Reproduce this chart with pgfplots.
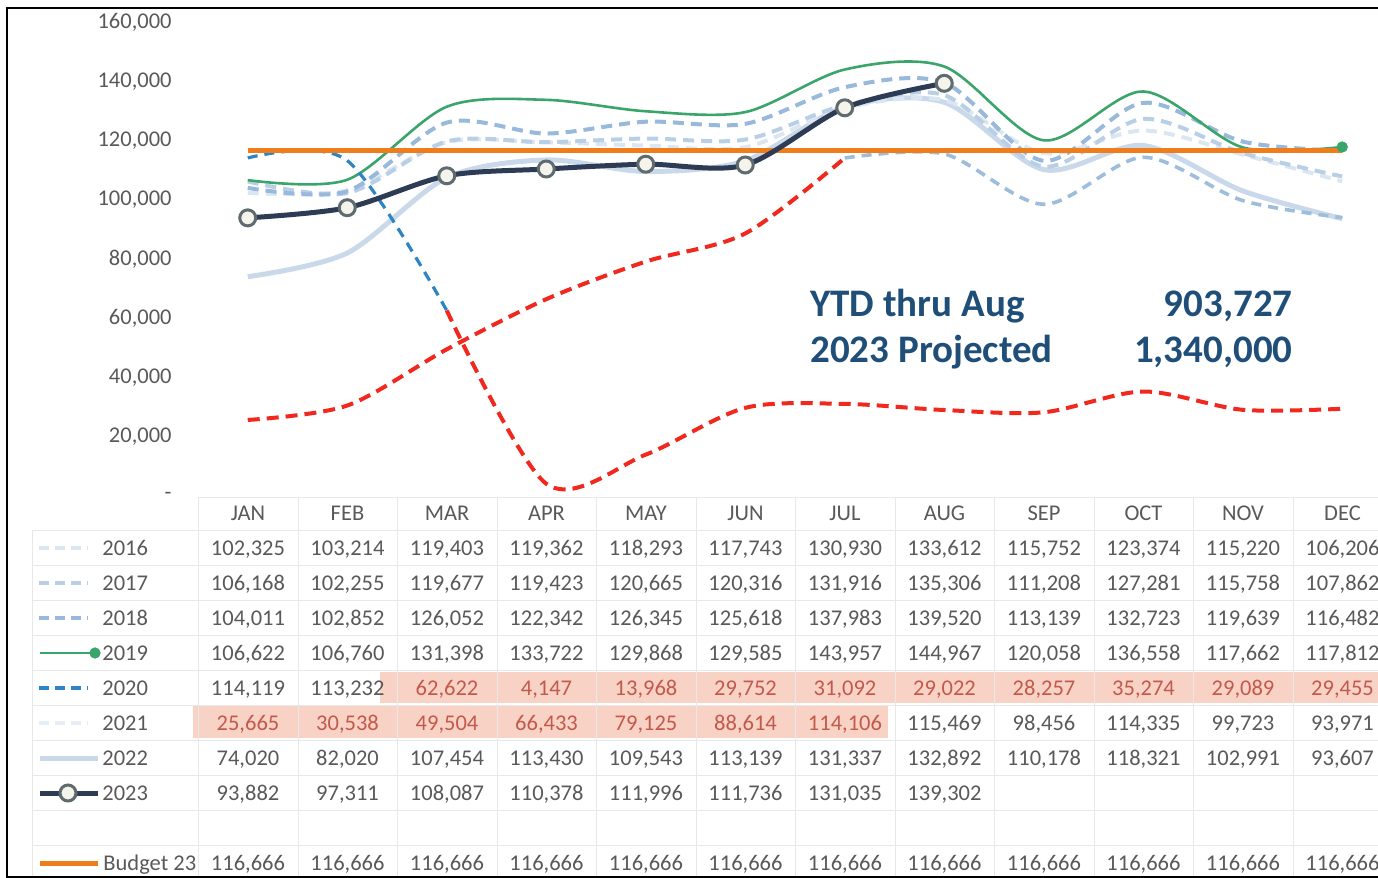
\documentclass[border=0pt]{standalone}
\usepackage{pgfplots}
\pgfplotsset{compat=1.18}
\usepackage{pgfplotstable}
\usepackage{fontspec}
\setmainfont{Carlito}
\definecolor{cA}{HTML}{DCE6F1}
\definecolor{cB}{HTML}{B8CFE6}
\definecolor{cC}{HTML}{98B9DB}
\definecolor{cG}{HTML}{3AA56B}
\definecolor{cD}{HTML}{2F84C2}
\definecolor{cE}{HTML}{9DBDDB}
\definecolor{cEl}{HTML}{E6EDF4}
\definecolor{cF}{HTML}{CAD9EA}
\definecolor{cN}{HTML}{2E3B54}
\definecolor{cMk}{HTML}{5F6B6E}
\definecolor{cMf}{HTML}{F4F4EC}
\definecolor{cO}{HTML}{F07D1C}
\definecolor{cR}{HTML}{F0281E}
\definecolor{cT}{HTML}{595959}
\definecolor{cHi}{HTML}{F9D2C6}
\definecolor{cHt}{HTML}{C25A4C}
\definecolor{cNote}{HTML}{1F4E79}
\definecolor{cGrid}{HTML}{E8E8E8}

\pgfplotstableread{
m y2016 y2017 y2018 y2019 y2020 y2021 y2022 y2023 bud
0 102325 106168 104011 106622 114119 25665 74020 93882 116666
1 103214 102255 102852 106760 113232 30538 82020 97311 116666
2 119403 119677 126052 131398 62622 49504 107454 108087 116666
3 119362 119423 122342 133722 4147 66433 113430 110378 116666
4 118293 120665 126345 129868 13968 79125 109543 111996 116666
5 117743 120316 125618 129585 29752 88614 113139 111736 116666
6 130930 131916 137983 143957 31092 114106 131337 131035 116666
7 133612 135306 139520 144967 29022 115469 132892 139302 116666
8 115752 111208 113139 120058 28257 98456 110178 nan 116666
9 123374 127281 132723 136558 35274 114335 118321 nan 116666
10 115220 115758 119639 117662 29089 99723 102991 nan 116666
11 106206 107862 116482 117812 29455 93971 93607 nan 116666
}\datatab

\newcommand\tabfont{\fontsize{11.25}{13.5}\selectfont}
% #1 row center (px), #2 first red index, #3 last red index, #4 list
\newcommand\rowvals[4]{%
  \foreach \v [count=\i from 0] in {#4} {%
    \ifnum\i<#2 \def\cc{cT}\else\ifnum\i>#3 \def\cc{cT}\else\def\cc{cHt}\fi\fi
    \node[anchor=base, inner sep=0pt, text=\cc, font=\tabfont] at (248+99.5*\i, #1+7) {\v};
  }}

\begin{document}
\begin{tikzpicture}
% ---------- table / legend axis in pixel coordinates ----------
\begin{axis}[at={(0pt,0pt)}, anchor=north west, scale only axis,
  width=689pt, height=439pt, xmin=0, xmax=1378, ymin=0, ymax=878,
  y dir=reverse, hide axis, clip=false]
\addplot[cA, line width=2pt, dash pattern=on 5pt off 3pt] coordinates {(39,548) (88,548)};
\addplot[cB, line width=2pt, dash pattern=on 5pt off 3pt] coordinates {(39,583) (88,583)};
\addplot[cC, line width=2pt, dash pattern=on 5pt off 3pt] coordinates {(39,618) (88,618)};
\addplot[cG, line width=1.4pt] coordinates {(40,653) (95,653)};
\addplot[cG, only marks, mark=*, mark size=2.6pt] coordinates {(95,653)};
\addplot[cD, line width=2pt, dash pattern=on 5pt off 3pt] coordinates {(39,688) (88,688)};
\addplot[cEl, line width=2pt, dash pattern=on 5pt off 3pt] coordinates {(39,723) (88,723)};
\addplot[cF, line width=2.5pt] coordinates {(40,758) (98,758)};
\addplot[cN, line width=2.5pt] coordinates {(40,793) (98,793)};
\addplot[only marks, mark=*, mark size=4pt, mark options={fill=cMf, draw=cMk, line width=1.5pt}] coordinates {(68,793)};
\addplot[cO, line width=2.5pt] coordinates {(40,863) (98,863)};
\end{axis}

% ---------- main chart axis ----------
\begin{axis}[at={(99pt,-248pt)}, anchor=south west, scale only axis,
  width=597pt, height=237pt, xmin=-0.5, xmax=11.5, ymin=0, ymax=160000,
  axis line style={draw=none}, xtick=\empty, scaled y ticks=false,
  ytick={0,20000,40000,60000,80000,100000,120000,140000,160000},
  yticklabels={-,{20,000},{40,000},{60,000},{80,000},{100,000},{120,000},{140,000},{160,000}},
  major tick length=0pt,
  yticklabel style={font=\tabfont, text=cT, anchor=east, inner sep=0pt, xshift=-13pt},
  clip=false]
\addplot[cF, line width=2.5pt, smooth] table[x=m,y=y2022]{\datatab};
\addplot[cA, line width=2pt, dash pattern=on 5.5pt off 3.5pt, smooth] table[x=m,y=y2016]{\datatab};
\addplot[cB, line width=2pt, dash pattern=on 5.5pt off 3.5pt, smooth] table[x=m,y=y2017]{\datatab};
\addplot[cC, line width=2pt, dash pattern=on 5.5pt off 3.5pt, smooth] table[x=m,y=y2018]{\datatab};
\addplot[cG, line width=1.3pt, smooth] table[x=m,y=y2019]{\datatab};
\addplot[cG, only marks, mark=*, mark size=2.6pt, restrict x to domain=10.5:11.5] table[x=m,y=y2019]{\datatab};
\addplot[cD, line width=1.6pt, dash pattern=on 5pt off 3.5pt, smooth, restrict x to domain=0:2] table[x=m,y=y2020]{\datatab};
\addplot[cE, line width=1.8pt, dash pattern=on 5pt off 3.5pt, smooth, restrict x to domain=6:11] table[x=m,y=y2021]{\datatab};
\addplot[cO, line width=2.5pt] table[x=m,y=bud]{\datatab};
\addplot[cN, line width=2.5pt, smooth, mark=*, mark size=4pt,
  mark options={fill=cMf, draw=cMk, line width=1.5pt}] table[x=m,y=y2023]{\datatab};
\addplot[cR, line width=2pt, dash pattern=on 6pt off 3.5pt, smooth, restrict x to domain=2:11] table[x=m,y=y2020]{\datatab};
\addplot[cR, line width=2pt, dash pattern=on 6pt off 3.5pt, smooth, restrict x to domain=0:6] table[x=m,y=y2021]{\datatab};
\end{axis}

% ---------- table drawing in pixel coordinates ----------
\begin{scope}[x=0.5pt, y=-0.5pt]
% highlights
\fill[cHi] (380,672) rectangle (1378,703);
\fill[cHi] (193,706) rectangle (888,738);
% grid
\draw[cGrid, line width=0.5pt] (198,497) -- (1378,497);
\foreach \k in {0,...,9} {\draw[cGrid, line width=0.5pt] (32,530+35*\k) -- (1378,530+35*\k);}
\foreach \k in {0,...,12} {\draw[cGrid, line width=0.5pt] (198.5+99.5*\k,497) -- (198.5+99.5*\k,878);}
\draw[cGrid, line width=0.5pt] (32,530) -- (32,878);
% header
\foreach \v [count=\i from 0] in {JAN,FEB,MAR,APR,MAY,JUN,JUL,AUG,SEP,OCT,NOV,DEC} {
  \node[anchor=base, inner sep=0pt, text=cT, font=\tabfont] at (248+99.5*\i, 520) {\v};}
% row labels
\foreach \v [count=\i from 0] in {2016,2017,2018,2019,2020,2021,2022,2023} {
  \node[anchor=base west, inner sep=0pt, text=cT, font=\tabfont] at (102, 555+35*\i) {\v};}
\node[anchor=base west, inner sep=0pt, text=cT, font=\tabfont] at (103, 870) {Budget 23};
% values
\rowvals{548}{99}{-1}{{102,325},{103,214},{119,403},{119,362},{118,293},{117,743},{130,930},{133,612},{115,752},{123,374},{115,220},{106,206}}
\rowvals{583}{99}{-1}{{106,168},{102,255},{119,677},{119,423},{120,665},{120,316},{131,916},{135,306},{111,208},{127,281},{115,758},{107,862}}
\rowvals{618}{99}{-1}{{104,011},{102,852},{126,052},{122,342},{126,345},{125,618},{137,983},{139,520},{113,139},{132,723},{119,639},{116,482}}
\rowvals{653}{99}{-1}{{106,622},{106,760},{131,398},{133,722},{129,868},{129,585},{143,957},{144,967},{120,058},{136,558},{117,662},{117,812}}
\rowvals{688}{2}{11}{{114,119},{113,232},{62,622},{4,147},{13,968},{29,752},{31,092},{29,022},{28,257},{35,274},{29,089},{29,455}}
\rowvals{723}{0}{6}{{25,665},{30,538},{49,504},{66,433},{79,125},{88,614},{114,106},{115,469},{98,456},{114,335},{99,723},{93,971}}
\rowvals{758}{99}{-1}{{74,020},{82,020},{107,454},{113,430},{109,543},{113,139},{131,337},{132,892},{110,178},{118,321},{102,991},{93,607}}
\rowvals{793}{99}{-1}{{93,882},{97,311},{108,087},{110,378},{111,996},{111,736},{131,035},{139,302}}
\rowvals{863}{99}{-1}{{116,666},{116,666},{116,666},{116,666},{116,666},{116,666},{116,666},{116,666},{116,666},{116,666},{116,666},{116,666}}
% annotation
\node[anchor=base west, inner sep=0pt, text=cNote, font=\fontsize{19.5}{23}\selectfont\bfseries] at (810,316) {YTD thru Aug};
\node[anchor=base east, inner sep=0pt, text=cNote, font=\fontsize{19.5}{23}\selectfont\bfseries] at (1293,316) {903,727};
\node[anchor=base west, inner sep=0pt, text=cNote, font=\fontsize{19.5}{23}\selectfont\bfseries] at (810,362) {2023 Projected};
\node[anchor=base east, inner sep=0pt, text=cNote, font=\fontsize{19.5}{23}\selectfont\bfseries] at (1293,362) {1,340,000};
% frame
\draw[black, line width=1pt] (7,8) rectangle (1400,877);
\end{scope}
\pgfresetboundingbox
\useasboundingbox (0,0) rectangle (689pt,-439pt);
\end{tikzpicture}
\end{document}
